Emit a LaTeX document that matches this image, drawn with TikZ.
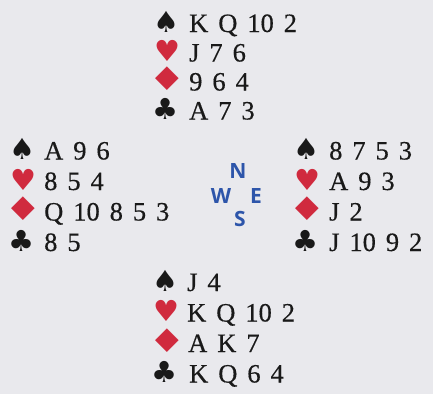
\documentclass[tikz,border=0pt]{standalone}
\usepackage{fontspec}
\setmainfont[WordSpace=1.5,FakeBold=0.4]{Liberation Serif}
\newfontfamily\suitfont{DejaVu Sans}
\newfontfamily\compfont{Open Sans}
\definecolor{bg}{RGB}{233,233,237}
\definecolor{ink}{RGB}{25,25,25}
\definecolor{suitred}{RGB}{208,42,62}
\definecolor{compblue}{RGB}{45,85,170}
\newcommand\dmd{\scalebox{1.45}[1.12]{♦}}
\begin{document}
\begin{tikzpicture}[x=1pt,y=-1pt,
  suit/.style={anchor=base,inner sep=0pt,font=\suitfont\fontsize{29}{29}\selectfont},
  blk/.style={suit,text=ink},
  rd/.style={suit,text=suitred},
  cards/.style={anchor=base west,inner sep=0pt,text=ink,font=\fontsize{26.5}{26.5}\selectfont},
  comp/.style={inner sep=0pt,text=compblue,font=\compfont\bfseries\fontsize{21}{21}\selectfont}]
\fill[bg] (0,0) rectangle (433,394);
\useasboundingbox (0,0) rectangle (433,394);
% North
\node[blk] (ns) at (166,32) {♠};     \node[cards] (nst) at (189,32) {K Q 10 2};
\node[rd]  (nh) at (167,61.5) {♥};   \node[cards] (nht) at (189,61.5) {J 7 6};
\node[rd]  (nd) at (167,90.5) {\dmd};\node[cards] (ndt) at (189,90.5) {9 6 4};
\node[blk] (nc) at (165,119.5) {♣};  \node[cards] (nct) at (189,119.5) {A 7 3};
% West
\node[blk] (ws) at (22,159.5) {♠};   \node[cards] (wst) at (44,159.5) {A 9 6};
\node[rd]  (wh) at (23,190) {♥};     \node[cards] (wht) at (44,190) {8 5 4};
\node[rd]  (wd) at (23,220.5) {\dmd};\node[cards] (wdt) at (44,220.5) {Q 10 8 5 3};
\node[blk] (wc) at (21,251) {♣};     \node[cards] (wct) at (44,251) {8 5};
% East
\node[blk] (es) at (306,159.5) {♠};  \node[cards] (est) at (329,159.5) {8 7 5 3};
\node[rd]  (eh) at (307,190) {♥};    \node[cards] (eht) at (329,190) {A 9 3};
\node[rd]  (ed) at (307,220.5) {\dmd};\node[cards] (edt) at (329,220.5) {J 2};
\node[blk] (ec) at (305,251) {♣};    \node[cards] (ect) at (329,251) {J 10 9 2};
% South
\node[blk] (ss) at (165,291) {♠};    \node[cards] (sst) at (187,291) {J 4};
\node[rd]  (sh) at (166,321.5) {♥};  \node[cards] (sht) at (187,321.5) {K Q 10 2};
\node[rd]  (sd) at (167,352) {\dmd}; \node[cards] (sdt) at (188,352) {A K 7};
\node[blk] (sc) at (164,382.5) {♣};  \node[cards] (sct) at (189,382.5) {K Q 6 4};
% Compass
\node[comp] (cN) at (238,171) {N};
\node[comp] (cW) at (221,196) {W};
\node[comp] (cE) at (256,196) {E};
\node[comp] (cS) at (240,219) {S};
\end{tikzpicture}
\end{document}
